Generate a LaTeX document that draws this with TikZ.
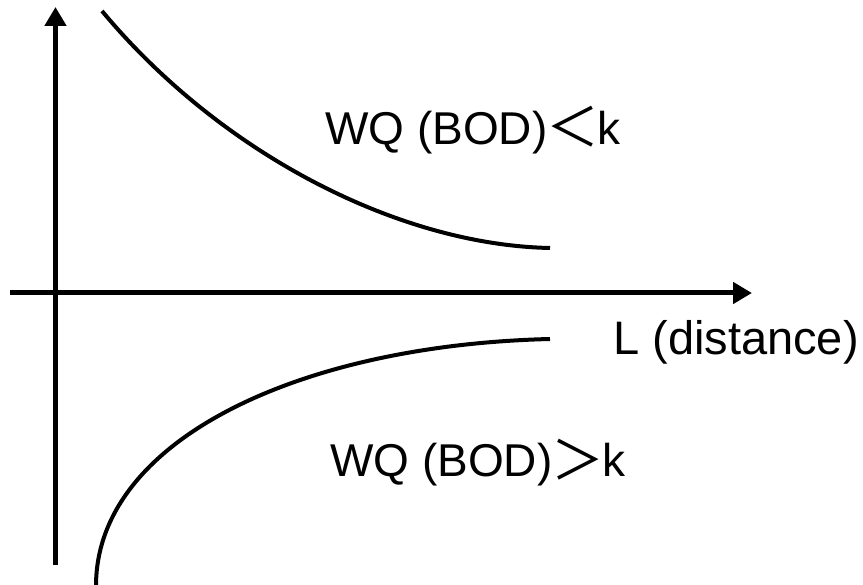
\documentclass[tikz,border=0pt]{standalone}
\usepackage{fontspec}
\setmainfont{Liberation Sans}
\newfontfamily\cjk{Noto Sans CJK SC}
\usetikzlibrary{arrows.meta}
\begin{document}
\begin{tikzpicture}[x=1pt,y=-1pt,
  axis/.style={line width=5pt,-{Triangle[length=19pt,width=21pt]}},
  curve/.style={line width=4pt},
  lbl/.style={anchor=base west,inner sep=0pt,font=\fontsize{46}{52}\selectfont}]
\useasboundingbox (0,0) rectangle (863,585);
\coordinate (ybot) at (55.5,565);
\coordinate (ytop) at (55.5,7);
\coordinate (xl) at (10,293);
\coordinate (xr) at (752,293);
\draw[axis] (ybot) -- (ytop);
\draw[axis] (xl) -- (xr);
\coordinate (u0) at (102,11);
\coordinate (u3) at (550,248);
\coordinate (l0) at (550,339);
\coordinate (l3) at (96,586);
\draw[curve] (u0) .. controls (222,155) and (400,245) .. (u3);
\draw[curve] (l0) .. controls (300,345) and (96,440) .. (l3);
\node[lbl] (up) at (325,145) {WQ (BOD)\makebox[50pt]{\raisebox{-2pt}{\scalebox{1.15}{\cjk ＜}}}k};
\node[lbl] (lo) at (330,477) {WQ (BOD)\makebox[50pt]{\raisebox{-2pt}{\scalebox{1.15}{\cjk ＞}}}k};
\node[lbl,font=\fontsize{47}{52}\selectfont] (dist) at (613,355) {L (distance)};
\end{tikzpicture}
\end{document}
